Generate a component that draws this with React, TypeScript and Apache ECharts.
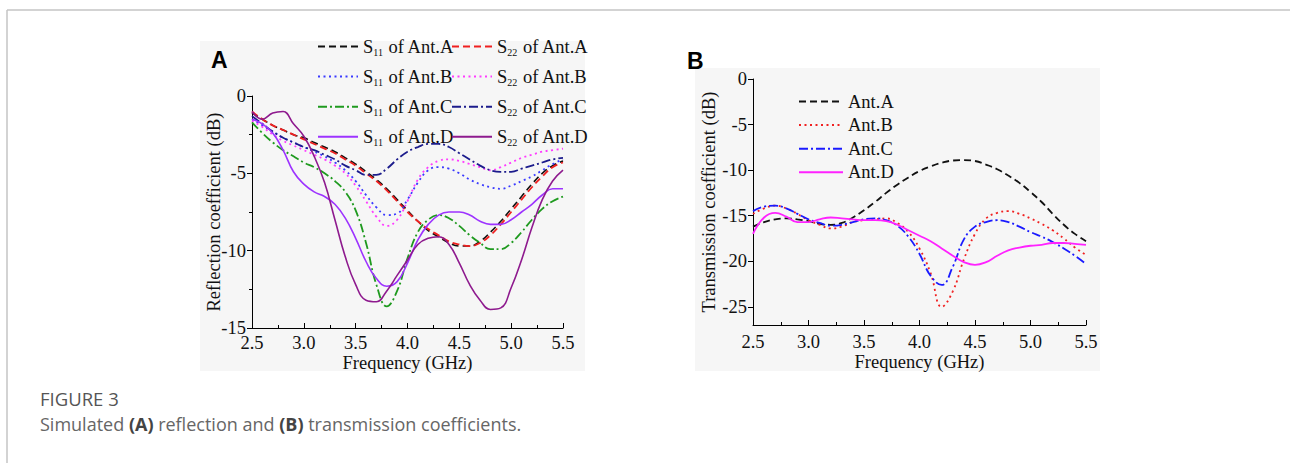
import React, { useEffect, useRef } from "react";
import * as echarts from "echarts";

// Frequency grid (GHz) shared by every curve
const freq = [
  2.5, 2.6, 2.7, 2.8, 2.9, 3.0, 3.1, 3.2, 3.3, 3.4, 3.5, 3.6, 3.7, 3.8, 3.9, 4.0,
  4.1, 4.2, 4.3, 4.4, 4.5, 4.6, 4.7, 4.8, 4.9, 5.0, 5.1, 5.2, 5.3, 5.4, 5.5,
];

// (A) reflection coefficients, dB
const s11AntA = [-1.1, -1.5, -1.9, -2.2, -2.5, -2.7, -3.0, -3.3, -3.6, -4.0, -4.4, -4.9, -5.4, -6.0, -6.7, -7.4, -8.1, -8.7, -9.1, -9.5, -9.7, -9.7, -9.4, -8.8, -8.1, -7.3, -6.5, -5.7, -5.0, -4.5, -4.2];
const s22AntA = [-1.0, -1.5, -1.9, -2.2, -2.5, -2.8, -3.1, -3.4, -3.7, -4.1, -4.5, -5.0, -5.5, -6.1, -6.8, -7.5, -8.1, -8.6, -9.0, -9.4, -9.6, -9.7, -9.5, -9.0, -8.3, -7.5, -6.7, -5.9, -5.2, -4.6, -4.3];
const s11AntB = [-1.5, -1.9, -2.3, -2.7, -3.0, -3.3, -3.6, -3.9, -4.3, -4.8, -5.5, -6.4, -7.2, -7.7, -7.6, -6.7, -5.6, -4.8, -4.6, -4.7, -5.0, -5.4, -5.7, -5.9, -6.0, -5.8, -5.5, -5.2, -4.8, -4.4, -4.1];
const s22AntB = [-1.6, -2.0, -2.5, -2.9, -3.2, -3.5, -3.8, -4.1, -4.5, -5.0, -5.8, -6.8, -7.8, -8.4, -8.0, -6.8, -5.4, -4.6, -4.2, -4.1, -4.2, -4.4, -4.6, -4.8, -4.6, -4.3, -4.0, -3.8, -3.6, -3.5, -3.4];
const s11AntC = [-1.7, -2.4, -3.0, -3.5, -3.9, -4.3, -4.6, -5.0, -5.5, -6.2, -7.4, -9.5, -12.2, -13.6, -12.6, -10.5, -8.8, -8.0, -7.7, -7.9, -8.4, -9.0, -9.5, -9.9, -9.9, -9.5, -8.8, -8.0, -7.3, -6.8, -6.5];
const s22AntC = [-1.3, -1.8, -2.3, -2.7, -3.0, -3.3, -3.5, -3.8, -4.1, -4.5, -4.8, -5.1, -5.1, -4.7, -4.1, -3.6, -3.3, -3.1, -3.1, -3.3, -3.7, -4.1, -4.5, -4.8, -4.9, -4.9, -4.7, -4.5, -4.3, -4.1, -4.0];
const s11AntD = [-1.5, -1.8, -2.4, -3.5, -4.9, -5.7, -6.2, -6.5, -7.0, -7.9, -9.2, -10.7, -11.8, -12.3, -12.0, -10.8, -9.3, -8.3, -7.7, -7.5, -7.5, -7.7, -8.1, -8.3, -8.3, -8.0, -7.5, -7.0, -6.4, -6.0, -6.0];
const s22AntD = [-1.0, -1.5, -1.1, -1.0, -1.8, -2.6, -3.9, -5.6, -8.0, -10.4, -12.2, -13.2, -13.3, -12.6, -11.6, -10.6, -9.6, -9.2, -9.1, -9.6, -10.8, -12.2, -13.2, -13.8, -13.7, -12.4, -10.6, -8.5, -6.7, -5.5, -4.8];

// (B) transmission coefficients, dB
const s21AntA = [-16.2, -15.7, -15.4, -15.3, -15.4, -15.6, -15.9, -16.0, -15.8, -15.2, -14.4, -13.5, -12.5, -11.6, -10.8, -10.1, -9.6, -9.2, -8.95, -8.9, -9.0, -9.4, -9.9, -10.6, -11.4, -12.4, -13.5, -14.8, -16.0, -17.0, -17.8];
const s21AntB = [-14.8, -14.2, -13.9, -14.2, -14.8, -15.5, -16.0, -16.4, -16.2, -15.7, -15.5, -15.4, -15.3, -15.8, -16.8, -18.6, -21.3, -25.0, -23.3, -19.8, -17.0, -15.3, -14.7, -14.5, -14.8, -15.3, -15.9, -16.6, -17.5, -18.5, -19.3];
const s21AntC = [-14.5, -14.0, -13.9, -14.2, -14.8, -15.4, -15.8, -16.1, -16.0, -15.7, -15.4, -15.3, -15.5, -16.1, -17.3, -19.2, -21.6, -22.6, -20.6, -17.6, -16.2, -15.7, -15.5, -15.7, -16.2, -16.8, -17.3, -17.9, -18.6, -19.4, -20.3];
const s21AntD = [-17.0, -15.2, -14.7, -15.1, -15.7, -15.7, -15.4, -15.2, -15.3, -15.4, -15.5, -15.5, -15.6, -16.0, -16.6, -17.2, -17.8, -18.6, -19.4, -20.1, -20.4, -20.1, -19.4, -18.8, -18.5, -18.3, -18.2, -18.0, -18.0, -18.1, -18.2];

const reflectionNames = [
  "S11 of Ant.A", "S22 of Ant.A", "S11 of Ant.B", "S22 of Ant.B",
  "S11 of Ant.C", "S22 of Ant.C", "S11 of Ant.D", "S22 of Ant.D",
];
const transmissionNames = ["Ant.A", "Ant.B", "Ant.C", "Ant.D"];
const freqTicks = [2.5, 3.0, 3.5, 4.0, 4.5, 5.0, 5.5];
const reflectionTicks = [0, -5, -10, -15];
const transmissionTicks = [0, -5, -10, -15, -20, -25];

const SERIF = "'Liberation Serif', 'Times New Roman', serif";
const SANS = "'Open Sans', 'Noto Sans', sans-serif";
const FS = 18.5;

const DASH = [7, 4];
const DOT = [2, 3.5];
const DASH_DOT = [9, 3, 2, 3];

const pairs = (vals: number[]) => freq.map((f, i) => [f, vals[i]]);

function lineSeries(name: string, vals: number[], axis: number, color: string, type: any, width: number) {
  return {
    name,
    type: "line",
    xAxisIndex: axis,
    yAxisIndex: axis,
    data: pairs(vals),
    smooth: 0.45,
    symbol: "none",
    lineStyle: { color, type, width },
    itemStyle: { color },
    z: 3,
  };
}

function freqAxis(grid: number, labelMargin: number, nameGap: number) {
  return {
    type: "value",
    gridIndex: grid,
    min: 2.5,
    max: 5.5,
    interval: 0.5,
    axisLine: { show: true, onZero: false, lineStyle: { color: "#000", width: 1 } },
    axisTick: { show: true, inside: true, length: 5, lineStyle: { color: "#000" } },
    minorTick: { show: true, splitNumber: 2, length: 3, lineStyle: { color: "#000" } },
    splitLine: { show: false },
    axisLabel: {
      margin: labelMargin,
      fontFamily: SERIF,
      fontSize: FS,
      color: "#111",
      customValues: freqTicks,
      formatter: (v: number) => v.toFixed(1),
    },
    name: "Frequency (GHz)",
    nameLocation: "middle",
    nameGap,
    nameMoveOverlap: false,
    nameTextStyle: { fontFamily: SERIF, fontSize: FS, color: "#111" },
  };
}

const subRich = {
  s: { fontFamily: SERIF, fontSize: FS, color: "#111" },
  sub: { fontFamily: SERIF, fontSize: 10, color: "#111", padding: [12, 1, 0, 0] },
  t: { fontFamily: SERIF, fontSize: FS, color: "#111" },
};

const subFormatter = (name: string) => {
  const m = name.match(/^S(\d+)( of .*)$/);
  return m ? `{s|S}{sub|${m[1]}}{t|${m[2]}}` : name;
};

// legend icons show only the stroke, no marker
const hiddenMarker = { color: "transparent", borderColor: "transparent", borderWidth: 0 };

function reflectionLegend(names: string[], left: number) {
  return {
    data: names,
    orient: "vertical",
    left,
    top: 37,
    itemWidth: 40,
    itemHeight: 12,
    itemGap: 9.6,
    padding: 0,
    formatter: subFormatter,
    itemStyle: hiddenMarker,
    textStyle: { rich: subRich, fontFamily: SERIF, fontSize: FS, color: "#111" },
    selectedMode: false,
  };
}

export default function App() {
  const ref = useRef<HTMLDivElement>(null);

  useEffect(() => {
    if (!ref.current) return;
    const chart = echarts.init(ref.current, null, { renderer: "svg" });

    const option: any = {
      animation: false,
      backgroundColor: "#ffffff",
      grid: [
        { left: 252, top: 96, width: 311, height: 232 },
        { left: 753, top: 79, width: 333, height: 246 },
      ],
      xAxis: [freqAxis(0, 5, 25), freqAxis(1, 7, 27)],
      yAxis: [
        {
          type: "value",
          gridIndex: 0,
          min: -15,
          max: 0,
          interval: 5,
          axisLine: { show: true, lineStyle: { color: "#000", width: 1 } },
          axisTick: { show: true, inside: false, length: 5, lineStyle: { color: "#000" } },
          minorTick: { show: true, splitNumber: 2, length: 3, lineStyle: { color: "#000" } },
          splitLine: { show: false },
          axisLabel: { margin: 6, fontFamily: SERIF, fontSize: FS, color: "#111", customValues: reflectionTicks },
          name: "Reflection coefficient (dB)",
          nameLocation: "middle",
          nameGap: 29,
          nameMoveOverlap: false,
          nameTextStyle: { fontFamily: SERIF, fontSize: FS, color: "#111" },
        },
        {
          type: "value",
          gridIndex: 1,
          min: -27,
          max: 0,
          axisLine: { show: true, lineStyle: { color: "#000", width: 1 } },
          axisTick: { show: true, inside: false, length: 5, customValues: transmissionTicks, lineStyle: { color: "#000" } },
          splitLine: { show: false },
          axisLabel: { margin: 6, fontFamily: SERIF, fontSize: FS, color: "#111", customValues: transmissionTicks },
          name: "Transmission coefficient (dB)",
          nameLocation: "middle",
          nameGap: 35,
          nameMoveOverlap: false,
          nameTextStyle: { fontFamily: SERIF, fontSize: FS, color: "#111" },
        },
      ],
      legend: [
        reflectionLegend(["S11 of Ant.A", "S11 of Ant.B", "S11 of Ant.C", "S11 of Ant.D"], 317),
        reflectionLegend(["S22 of Ant.A", "S22 of Ant.B", "S22 of Ant.C", "S22 of Ant.D"], 451),
        {
          data: transmissionNames,
          orient: "vertical",
          left: 798,
          top: 92,
          itemWidth: 44,
          itemHeight: 12,
          itemGap: 4.6,
          padding: 0,
          itemStyle: hiddenMarker,
          textStyle: { fontFamily: SERIF, fontSize: FS, color: "#111" },
          selectedMode: false,
        },
      ],
      graphic: [
        // panel backgrounds
        { type: "rect", z: -10, shape: { x: 200, y: 41, width: 385, height: 330 }, style: { fill: "#f6f6f6" } },
        { type: "rect", z: -10, shape: { x: 695, y: 68, width: 405, height: 303 }, style: { fill: "#f6f6f6" } },
        // figure frame
        { type: "line", shape: { x1: 7, y1: 10, x2: 1290, y2: 10 }, style: { stroke: "#c4c4c4", lineWidth: 1.5 } },
        { type: "line", shape: { x1: 7, y1: 10, x2: 7, y2: 463 }, style: { stroke: "#c4c4c4", lineWidth: 1.5 } },
        // panel letters
        { type: "text", left: 211, top: 48, style: { text: "A", fontFamily: "'Liberation Sans', Arial, sans-serif", fontWeight: "bold", fontSize: 23, fill: "#000" } },
        { type: "text", left: 687, top: 49, style: { text: "B", fontFamily: "'Liberation Sans', Arial, sans-serif", fontWeight: "bold", fontSize: 23, fill: "#000" } },
        // caption
        { type: "text", left: 40, top: 389, style: { text: "FIGURE 3", fontFamily: SANS, fontSize: 18.5, fill: "#555" } },
        {
          type: "text",
          left: 40,
          top: 415,
          style: {
            text: "Simulated {b|(A)} reflection and {b|(B)} transmission coefficients.",
            fontFamily: SANS,
            fontSize: 18,
            fill: "#666",
            rich: { b: { fontFamily: SANS, fontSize: 18, fontWeight: "bold", fill: "#444" } },
          },
        },
      ],
      series: [
        lineSeries(reflectionNames[0], s11AntA, 0, "#111111", DASH, 1.6),
        lineSeries(reflectionNames[1], s22AntA, 0, "#f02020", DASH, 1.8),
        lineSeries(reflectionNames[2], s11AntB, 0, "#3a3aff", DOT, 1.8),
        lineSeries(reflectionNames[3], s22AntB, 0, "#ff3cff", DOT, 1.8),
        lineSeries(reflectionNames[4], s11AntC, 0, "#1f9a1f", DASH_DOT, 1.8),
        lineSeries(reflectionNames[5], s22AntC, 0, "#1c1c8c", DASH_DOT, 1.8),
        lineSeries(reflectionNames[6], s11AntD, 0, "#9d33ff", "solid", 1.6),
        lineSeries(reflectionNames[7], s22AntD, 0, "#8e1a8e", "solid", 1.6),
        lineSeries(transmissionNames[0], s21AntA, 1, "#111111", DASH, 1.8),
        lineSeries(transmissionNames[1], s21AntB, 1, "#f02020", DOT, 1.8),
        lineSeries(transmissionNames[2], s21AntC, 1, "#1a1aff", DASH_DOT, 1.8),
        lineSeries(transmissionNames[3], s21AntD, 1, "#ff22ff", "solid", 1.8),
      ],
    };

    chart.setOption(option);
    return () => chart.dispose();
  }, []);

  return <div ref={ref} style={{ position: "absolute", left: 0, top: 0, width: 1290, height: 463 }} />;
}
